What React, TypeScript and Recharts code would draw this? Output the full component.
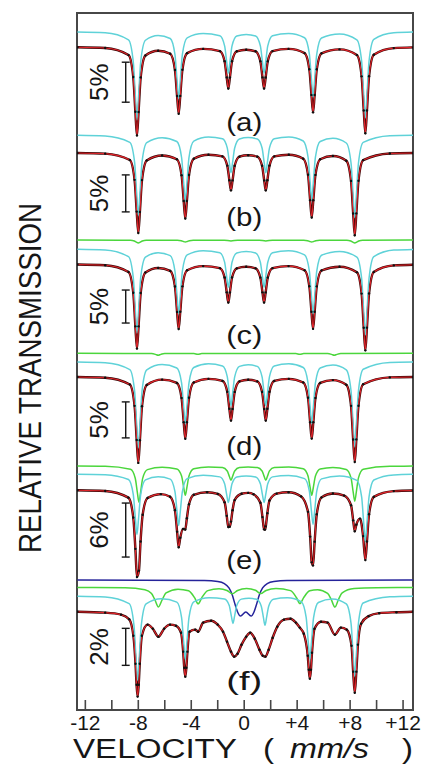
import React from 'react';
import {
  ComposedChart,
  Line,
  Scatter,
  XAxis,
  YAxis,
  ReferenceArea,
  ReferenceLine,
  ReferenceDot,
} from 'recharts';

// ---------- velocity axis ----------
const velocityTicks = [-12, -10, -8, -6, -4, -2, 0, 2, 4, 6, 8, 10, 12];
const labelledTicks = [-12, -8, -4, 0, 4, 8, 12];
const labelledTickText = ['-12', '-8', '-4', '0', '+4', '+8', '+12'];

// ---------- velocity grids (mm/s) ----------
const gridA = [-12.6, -10.5, -8.74, -8.38, -8.22, -8.1, -7.98, -7.82, -7.46, -6.5, -5.59, -5.23, -5.07, -4.95, -4.83, -4.67, -4.31, -3.1, -1.84, -1.48, -1.32, -1.2, -1.08, -0.92, -0.56, 0.15, 0.86, 1.22, 1.38, 1.5, 1.62, 1.78, 2.14, 3.35, 4.56, 4.92, 5.08, 5.2, 5.32, 5.48, 5.84, 7.2, 8.51, 8.87, 9.03, 9.15, 9.27, 9.43, 9.79, 11.3, 12.75];
const gridB = [-12.6, -10.5, -8.64, -8.28, -8.12, -8.0, -7.88, -7.72, -7.36, -6.2, -5.09, -4.73, -4.57, -4.45, -4.33, -4.17, -3.81, -2.7, -1.64, -1.28, -1.12, -1.0, -0.88, -0.72, -0.36, 0.3, 0.99, 1.35, 1.51, 1.63, 1.75, 1.91, 2.27, 3.37, 4.46, 4.82, 4.98, 5.1, 5.22, 5.38, 5.74, 6.7, 7.71, 8.07, 8.23, 8.35, 8.47, 8.63, 8.99, 11.0, 12.75];

// ---------- relative transmission (%) ----------
// (a)
const specA = [99.96, 99.87, 98.99, 96.25, 91.9, 88.95, 91.88, 96.2, 98.93, 99.53, 99.15, 97.13, 93.87, 91.66, 93.89, 97.16, 99.23, 99.76, 99.49, 98.23, 96.2, 94.82, 96.19, 98.22, 99.46, 99.66, 99.46, 98.22, 96.2, 94.82, 96.19, 98.22, 99.49, 99.76, 99.24, 97.22, 94.01, 91.83, 94.0, 97.21, 99.21, 99.7, 98.99, 96.33, 92.06, 89.22, 92.07, 96.34, 99.04, 99.86, 99.95];
// (b)
const specB = [99.96, 99.87, 99.01, 96.33, 92.04, 89.15, 92.0, 96.3, 98.96, 99.62, 99.12, 96.96, 93.47, 91.1, 93.48, 96.98, 99.18, 99.72, 99.5, 98.26, 96.27, 94.91, 96.26, 98.24, 99.46, 99.65, 99.46, 98.24, 96.26, 94.91, 96.27, 98.26, 99.5, 99.72, 99.19, 97.03, 93.59, 91.25, 93.57, 97.0, 99.12, 99.55, 98.92, 96.19, 91.79, 88.85, 91.8, 96.21, 99.0, 99.9, 99.96];
// (c)
const specC = [99.96, 99.85, 98.84, 95.68, 90.6, 87.23, 90.6, 95.65, 98.76, 99.45, 99.0, 96.63, 92.79, 90.2, 92.81, 96.66, 99.1, 99.73, 99.42, 98.01, 95.75, 94.21, 95.74, 98.0, 99.39, 99.62, 99.39, 98.0, 95.75, 94.21, 95.74, 98.0, 99.42, 99.73, 99.1, 96.67, 92.82, 90.22, 92.81, 96.66, 99.06, 99.64, 98.78, 95.56, 90.39, 86.96, 90.4, 95.57, 98.84, 99.83, 99.94];
const greenCVel = [-12.6, -8.6, -8.3, -8.15, -8.0, -7.85, -7.7, -7.4, -5.05, -4.75, -4.6, -4.45, -4.3, -4.15, -3.85, -1.5, -1.0, -0.5, 1.13, 1.63, 2.13, 4.5, 4.8, 4.95, 5.1, 5.25, 5.4, 5.7, 7.75, 8.05, 8.2, 8.35, 8.5, 8.65, 8.95, 12.75];
const greenC = [100, 99.96, 99.85, 99.67, 99.55, 99.67, 99.85, 99.96, 99.97, 99.9, 99.78, 99.7, 99.78, 99.9, 99.97, 99.98, 99.86, 99.98, 99.98, 99.86, 99.98, 99.97, 99.9, 99.78, 99.7, 99.78, 99.9, 99.97, 99.96, 99.85, 99.67, 99.55, 99.67, 99.85, 99.96, 100];
// (d)
const specD = [99.96, 99.86, 98.91, 95.95, 91.2, 88.03, 91.18, 95.9, 98.86, 99.6, 99.13, 97.05, 93.68, 91.39, 93.69, 97.07, 99.19, 99.7, 99.41, 97.92, 95.54, 93.9, 95.52, 97.89, 99.35, 99.58, 99.35, 97.89, 95.52, 93.9, 95.54, 97.92, 99.41, 99.7, 99.19, 97.07, 93.69, 91.4, 93.68, 97.05, 99.13, 99.53, 98.87, 95.95, 91.28, 88.15, 91.29, 95.97, 98.95, 99.9, 99.96];
const greenDVel = [-12.6, -7.0, -6.7, -6.5, -6.3, -6.0, -3.8, -3.5, -3.2, 3.9, 4.2, 4.5, 6.3, 6.6, 6.8, 7.0, 7.3, 12.75];
const greenD = [100, 99.96, 99.85, 99.72, 99.85, 99.96, 99.97, 99.86, 99.97, 99.97, 99.86, 99.97, 99.96, 99.85, 99.72, 99.85, 99.96, 100];
// (e)
const specEVel = [-12.6, -10.5, -8.75, -8.38, -8.22, -8.1, -7.95, -7.83, -7.67, -7.3, -6.3, -5.6, -5.23, -5.07, -4.95, -4.83, -4.62, -4.45, -4.33, -4.17, -3.81, -2.8, -2.0, -1.48, -1.32, -1.2, -1.1, -1.0, -0.88, -0.72, -0.2, 0.3, 0.7, 1.22, 1.38, 1.5, 1.57, 1.63, 1.75, 1.91, 2.45, 3.35, 4.3, 4.82, 4.98, 5.1, 5.2, 5.32, 5.48, 5.84, 6.7, 7.55, 8.07, 8.23, 8.35, 8.47, 8.75, 8.98, 9.15, 9.27, 9.43, 9.79, 11.3, 12.75];
const specE = [99.97, 99.89, 99.15, 96.95, 93.46, 90.34, 91.04, 94.27, 97.25, 99.11, 99.54, 99.25, 97.76, 95.37, 93.64, 94.7, 95.67, 95.61, 96.86, 98.41, 99.47, 99.75, 99.56, 98.63, 97.13, 95.89, 95.92, 96.49, 97.75, 98.88, 99.58, 99.68, 99.53, 98.58, 96.99, 95.63, 95.6, 95.96, 97.43, 98.84, 99.6, 99.75, 99.29, 97.57, 94.82, 91.96, 91.62, 94.26, 97.31, 99.18, 99.61, 99.38, 98.31, 96.63, 95.42, 96.15, 96.82, 94.88, 92.21, 94.28, 97.31, 99.24, 99.88, 99.95];
const cyanE = [99.98, 99.93, 99.39, 97.73, 95.08, 93.29, 95.07, 97.72, 99.35, 99.7, 99.43, 98.03, 95.79, 94.28, 95.8, 98.05, 99.48, 99.85, 99.68, 98.92, 97.68, 96.84, 97.67, 98.91, 99.67, 99.79, 99.67, 98.91, 97.67, 96.84, 97.68, 98.92, 99.68, 99.84, 99.49, 98.1, 95.88, 94.4, 95.88, 98.09, 99.46, 99.79, 99.3, 97.46, 94.5, 92.54, 94.51, 97.47, 99.33, 99.9, 99.96];
const greenEVel = [-12.6, -10.5, -8.59, -8.23, -8.07, -7.95, -7.83, -7.67, -7.31, -6.2, -5.09, -4.73, -4.57, -4.45, -4.33, -4.17, -3.81, -2.7, -1.64, -1.28, -1.12, -1.0, -0.88, -0.72, -0.36, 0.3, 0.99, 1.35, 1.51, 1.63, 1.75, 1.91, 2.27, 3.37, 4.46, 4.82, 4.98, 5.1, 5.22, 5.38, 5.74, 6.7, 7.71, 8.07, 8.23, 8.35, 8.47, 8.63, 8.99, 11.0, 12.75];
const greenE = [99.99, 99.96, 99.63, 98.64, 97.05, 95.98, 97.04, 98.63, 99.6, 99.86, 99.67, 98.88, 97.61, 96.75, 97.61, 98.89, 99.7, 99.9, 99.83, 99.45, 98.83, 98.41, 98.83, 99.45, 99.83, 99.89, 99.83, 99.45, 98.83, 98.41, 98.83, 99.45, 99.84, 99.9, 99.7, 98.89, 97.61, 96.75, 97.61, 98.88, 99.67, 99.84, 99.62, 98.67, 97.12, 96.09, 97.13, 98.68, 99.65, 99.97, 99.99];
// (f)
const specFVel = [-12.6, -10.5, -9.3, -8.69, -8.37, -8.21, -8.13, -8.05, -7.97, -7.89, -7.73, -7.3, -6.9, -6.48, -6.05, -5.6, -5.15, -4.77, -4.61, -4.53, -4.45, -4.37, -4.29, -4.13, -3.7, -3.48, -3.1, -2.5, -2.0, -1.6, -1.3, -1.0, -0.75, -0.5, -0.2, 0.15, 0.45, 0.8, 1.15, 1.4, 1.6, 1.85, 2.15, 2.5, 3.0, 3.5, 3.9, 4.2, 4.5, 4.8, 4.88, 4.96, 5.04, 5.12, 5.31, 5.8, 6.3, 6.85, 7.3, 7.75, 8.11, 8.23, 8.35, 8.47, 8.59, 8.83, 9.4, 10.2, 11.5, 12.75];
const specF = [100.0, 99.95, 99.84, 99.59, 98.7, 97.19, 96.05, 95.41, 96.05, 97.19, 98.7, 99.3, 99.08, 98.65, 99.08, 99.3, 99.24, 98.86, 97.84, 96.97, 96.49, 96.97, 97.84, 98.92, 99.03, 98.92, 99.41, 99.51, 99.3, 98.92, 98.38, 97.84, 97.57, 97.73, 98.22, 98.65, 98.86, 98.54, 97.95, 97.62, 97.57, 97.95, 98.59, 99.19, 99.57, 99.62, 99.41, 99.14, 98.81, 97.62, 96.86, 96.38, 96.86, 97.78, 99.08, 99.46, 99.41, 98.76, 99.14, 99.03, 98.16, 96.76, 95.62, 96.76, 98.22, 99.35, 99.76, 99.92, 99.97, 100.0];
const cyanFVel = [-12.6, -10.5, -8.69, -8.33, -8.17, -8.05, -7.93, -7.77, -7.41, -6.25, -5.09, -4.73, -4.57, -4.45, -4.33, -4.17, -3.81, -2.65, -1.49, -1.13, -0.97, -0.85, -0.73, -0.57, -0.21, 0.36, 0.93, 1.29, 1.45, 1.57, 1.69, 1.85, 2.21, 3.27, 4.32, 4.68, 4.84, 4.96, 5.08, 5.24, 5.6, 6.65, 7.71, 8.07, 8.23, 8.35, 8.47, 8.63, 8.99, 11.0, 12.75];
const cyanF = [99.99, 99.95, 99.59, 98.44, 96.64, 95.44, 96.64, 98.44, 99.57, 99.85, 99.67, 98.83, 97.48, 96.57, 97.49, 98.84, 99.68, 99.91, 99.84, 99.49, 98.91, 98.52, 98.9, 99.47, 99.83, 99.88, 99.82, 99.45, 98.84, 98.42, 98.84, 99.45, 99.82, 99.9, 99.68, 98.84, 97.5, 96.6, 97.5, 98.83, 99.65, 99.84, 99.57, 98.52, 96.81, 95.66, 96.82, 98.54, 99.62, 99.96, 99.99];
const greenFVel = [-12.6, -9.0, -7.5, -7.0, -6.75, -6.48, -6.2, -5.9, -5.0, -4.2, -3.75, -3.48, -3.2, -2.75, -1.9, -1.3, -0.9, -0.5, 0.18, 0.85, 1.25, 1.65, 2.4, 3.5, 3.94, 4.21, 4.48, 4.95, 5.55, 6.3, 6.58, 6.85, 7.12, 7.4, 8.3, 10.0, 12.75];
const greenF = [99.99, 99.97, 99.87, 99.66, 99.33, 98.94, 99.32, 99.7, 99.9, 99.81, 99.44, 99.11, 99.44, 99.82, 99.92, 99.83, 99.65, 99.83, 99.94, 99.84, 99.66, 99.83, 99.94, 99.82, 99.45, 99.12, 99.43, 99.81, 99.87, 99.67, 99.33, 98.93, 99.34, 99.7, 99.94, 99.98, 99.99];
const blueFVel = [-12.6, -3.0, -2.0, -1.5, -1.15, -0.9, -0.7, -0.5, -0.28, 0.12, 0.52, 0.74, 0.94, 1.14, 1.39, 1.74, 2.24, 3.24, 12.75];
const blueF = [100, 99.97, 99.92, 99.81, 99.57, 99.19, 98.7, 98.27, 98.05, 98.27, 98.05, 98.27, 98.7, 99.19, 99.57, 99.81, 99.92, 99.97, 100];

// ---------- colours ----------
const CYAN = '#5fd2d8';
const GREEN = '#4bd63c';
const BLUE = '#25239a';
const RED = '#e2242a';
const DARK = '#3a0707';
const FRAME = '#474747';
const INK = '#161616';
const FONT = '"Liberation Sans", Arial, Helvetica, sans-serif';

// ---------- layout ----------
const W = 428;
const H = 764;
const PLOT_TOP = 13;
const PLOT_BOTTOM = 710;
const PLOT_LEFT = 77;
const PLOT_RIGHT = 413;
const Y_SPAN = PLOT_BOTTOM - PLOT_TOP;
const X_DOMAIN: [number, number] = [-12.63, 12.75];
const BAR_V = -8.95;
const BAR_SERIF = 0.3;
const BAR_TEXT_V = -11.0;

type Part = { vel: number[]; trans: number[]; lift: number; color: string };
type Panel = {
  tag: string;
  base: number; // pixel row of the 100 % level of the spectrum
  pxPerPct: number;
  tagY: number;
  scalePct: number;
  scaleTop: number; // transmission at the top of the scale bar
  vel: number[];
  spec: number[];
  parts: Part[];
};

const panels: Panel[] = [
  {
    tag: '(a)', base: 47, pxPerPct: 8.0, tagY: 121.5, scalePct: 5, scaleTop: 98.1,
    vel: gridA, spec: specA,
    parts: [{ vel: gridA, trans: specA, lift: 15.3, color: CYAN }],
  },
  {
    tag: '(b)', base: 152.7, pxPerPct: 7.4, tagY: 217, scalePct: 5, scaleTop: 97.0,
    vel: gridB, spec: specB,
    parts: [{ vel: gridB, trans: specB, lift: 17.7, color: CYAN }],
  },
  {
    tag: '(c)', base: 264.3, pxPerPct: 6.6, tagY: 335, scalePct: 5, scaleTop: 96.1,
    vel: gridA, spec: specC,
    parts: [
      { vel: greenCVel, trans: greenC, lift: 24.3, color: GREEN },
      { vel: gridA, trans: specC, lift: 15.3, color: CYAN },
    ],
  },
  {
    tag: '(d)', base: 376.7, pxPerPct: 7.2, tagY: 446, scalePct: 5, scaleTop: 96.5,
    vel: gridB, spec: specD,
    parts: [
      { vel: greenDVel, trans: greenD, lift: 23.4, color: GREEN },
      { vel: gridB, trans: specD, lift: 15, color: CYAN },
    ],
  },
  {
    tag: '(e)', base: 490, pxPerPct: 9.0, tagY: 560, scalePct: 6, scaleTop: 98.55,
    vel: specEVel, spec: specE,
    parts: [
      { vel: greenEVel, trans: greenE, lift: 24, color: GREEN },
      { vel: gridA, trans: cyanE, lift: 16, color: CYAN },
    ],
  },
  {
    tag: '(f)', base: 611.7, pxPerPct: 18.5, tagY: 681, scalePct: 2, scaleTop: 99.1,
    vel: specFVel, spec: specF,
    parts: [
      { vel: blueFVel, trans: blueF, lift: 31.7, color: BLUE },
      { vel: greenFVel, trans: greenF, lift: 24.4, color: GREEN },
      { vel: cyanFVel, trans: cyanF, lift: 15.7, color: CYAN },
    ],
  },
];

const yOf = (p: Panel, t: number, lift = 0) => p.base - PLOT_TOP - lift + (100 - t) * p.pxPerPct;
const rows = (p: Panel, vel: number[], trans: number[], lift = 0) =>
  vel.map((v, i) => ({ v, y: yOf(p, trans[i], lift) }));

const BottomTick = (props: any) => {
  const { x, y, payload } = props;
  const idx = labelledTicks.indexOf(payload.value);
  return (
    <g>
      <line x1={x} x2={x} y1={y} y2={y - 10} stroke={FRAME} strokeWidth={1.6} />
      {idx >= 0 && (
        <text x={x} y={y + 20} textAnchor="middle" fontSize={21} fontFamily={FONT} fill={INK}>
          {labelledTickText[idx]}
        </text>
      )}
    </g>
  );
};

const TopTick = (props: any) => {
  const { x, y } = props;
  return <line x1={x} x2={x} y1={y} y2={y + 10} stroke={FRAME} strokeWidth={1.6} />;
};

// axis titles, drawn through the bottom axis label slot
const Titles = () => (
  <g fontFamily={FONT} fill={INK}>
    <g fontSize={27}>
      <text x={73} y={758} textLength={164} lengthAdjust="spacingAndGlyphs">VELOCITY</text>
      <text x={263} y={758} textLength={11} lengthAdjust="spacingAndGlyphs">(</text>
      <text x={290} y={758} fontStyle="italic" textLength={79} lengthAdjust="spacingAndGlyphs">mm/s</text>
      <text x={402} y={758} textLength={11} lengthAdjust="spacingAndGlyphs">)</text>
    </g>
    <text
      x={30}
      y={378}
      transform="rotate(-90 30 378)"
      textAnchor="middle"
      dominantBaseline="central"
      fontSize={32}
      textLength={350}
      lengthAdjust="spacingAndGlyphs"
    >
      RELATIVE TRANSMISSION
    </text>
  </g>
);

const SmallDot = (props: any) => {
  const { cx, cy } = props;
  if (cx == null || cy == null) return null;
  return <circle cx={cx} cy={cy} r={1.2} fill="#101010" />;
};

export default function App() {
  const series: React.ReactNode[] = [];
  const overlays: React.ReactNode[] = [];

  panels.forEach((p, k) => {
    const data = rows(p, p.vel, p.spec);
    series.push(
      <Line
        key={`meas-${k}`}
        data={data}
        dataKey="y"
        type="monotone"
        dot={false}
        stroke={DARK}
        strokeWidth={2.4}
        isAnimationActive={false}
      />,
    );
    series.push(
      <Scatter key={`pts-${k}`} data={data} dataKey="y" shape={SmallDot} isAnimationActive={false} />,
    );
    p.parts.forEach((c, j) => {
      series.push(
        <Line
          key={`part-${k}-${j}`}
          data={rows(p, c.vel, c.trans, c.lift)}
          dataKey="y"
          type="monotone"
          dot={false}
          stroke={c.color}
          strokeWidth={1.5}
          isAnimationActive={false}
        />,
      );
    });
    series.push(
      <Line
        key={`fit-${k}`}
        data={data}
        dataKey="y"
        type="monotone"
        dot={false}
        stroke={RED}
        strokeWidth={1.1}
        isAnimationActive={false}
      />,
    );

    // scale bar for the panel
    const yTop = yOf(p, p.scaleTop);
    const yBot = yOf(p, p.scaleTop - p.scalePct);
    overlays.push(
      <ReferenceLine key={`bar-${k}`} segment={[{ x: BAR_V, y: yTop }, { x: BAR_V, y: yBot }]} stroke={INK} strokeWidth={1.4} ifOverflow="visible" />,
      <ReferenceLine key={`bart-${k}`} segment={[{ x: BAR_V - BAR_SERIF, y: yTop }, { x: BAR_V + BAR_SERIF, y: yTop }]} stroke={INK} strokeWidth={1.4} ifOverflow="visible" />,
      <ReferenceLine key={`barb-${k}`} segment={[{ x: BAR_V - BAR_SERIF, y: yBot }, { x: BAR_V + BAR_SERIF, y: yBot }]} stroke={INK} strokeWidth={1.4} ifOverflow="visible" />,
      <ReferenceDot
        key={`bartx-${k}`}
        x={BAR_TEXT_V}
        y={(yTop + yBot) / 2}
        r={0}
        ifOverflow="visible"
        shape={(s: any) => (
          <text
            x={s.cx}
            y={s.cy}
            transform={`rotate(-90 ${s.cx} ${s.cy})`}
            textAnchor="middle"
            dominantBaseline="central"
            fontFamily={FONT}
            fontSize={26}
            fill={INK}
          >
            {`${p.scalePct}%`}
          </text>
        )}
      />,
      <ReferenceDot
        key={`tag-${k}`}
        x={0}
        y={p.tagY - PLOT_TOP}
        r={0}
        ifOverflow="visible"
        shape={(s: any) => (
          <text
            x={s.cx}
            y={s.cy}
            textAnchor="middle"
            dominantBaseline="central"
            fontFamily={FONT}
            fontSize={26}
            textLength={36}
            lengthAdjust="spacingAndGlyphs"
            fill={INK}
          >
            {p.tag}
          </text>
        )}
      />,
    );
  });

  return (
    <div style={{ position: 'absolute', left: 0, top: 0, width: W, height: H, background: '#fff' }}>
      <ComposedChart
        width={W}
        height={H}
        margin={{ top: PLOT_TOP, right: W - PLOT_RIGHT, bottom: 0, left: PLOT_LEFT }}
      >
        <XAxis
          dataKey="v"
          type="number"
          domain={X_DOMAIN}
          allowDataOverflow
          ticks={velocityTicks}
          interval={0}
          height={H - PLOT_BOTTOM}
          tickSize={0}
          tickMargin={0}
          tickLine={false}
          axisLine={false}
          tick={BottomTick}
          label={Titles}
        />
        <XAxis
          xAxisId="top"
          orientation="top"
          dataKey="v"
          type="number"
          domain={X_DOMAIN}
          allowDataOverflow
          ticks={velocityTicks}
          interval={0}
          height={0}
          tickSize={0}
          tickMargin={0}
          tickLine={false}
          axisLine={false}
          tick={TopTick}
        />
        <YAxis
          type="number"
          domain={[0, Y_SPAN]}
          reversed
          allowDataOverflow
          width={0}
          tick={false}
          tickLine={false}
          axisLine={false}
        />
        <ReferenceArea
          x1={X_DOMAIN[0]}
          x2={X_DOMAIN[1]}
          y1={0}
          y2={Y_SPAN}
          fill="none"
          stroke={FRAME}
          strokeWidth={2}
          ifOverflow="visible"
        />
        {series}
        {overlays}
      </ComposedChart>
    </div>
  );
}
